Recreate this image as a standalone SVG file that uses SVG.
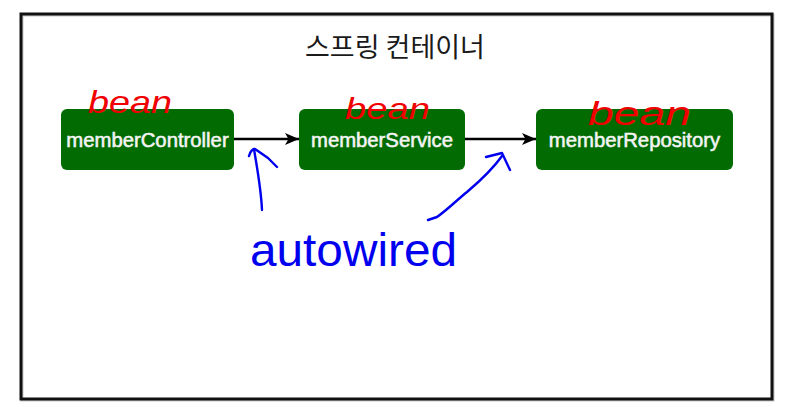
<svg xmlns="http://www.w3.org/2000/svg" width="785" height="407" viewBox="0 0 785 407">
  <style>
    .node rect { fill: #026c02; }
    .node text { fill: #f4f4f4; stroke: #f4f4f4; stroke-width: 0.55; font-family: "Liberation Sans", Arial, sans-serif; font-size: 20.3px; text-anchor: middle; }
    .conn { stroke: #000; stroke-width: 2.4; fill: none; }
    .bean { fill: #f00000; font-family: "Liberation Sans", Arial, sans-serif; font-style: italic; }
    .ink { stroke: #0000ee; stroke-width: 2.4; fill: none; stroke-linecap: round; stroke-linejoin: round; }
    .auto { fill: #0000ee; font-family: "Liberation Sans", Arial, sans-serif; }
  </style>
  <defs>
    <marker id="arrow" markerWidth="15" markerHeight="14" refX="14" refY="7" orient="auto" markerUnits="userSpaceOnUse">
      <path d="M0,1 L14,7 L0,13 L3.5,7 Z" fill="#000"/>
    </marker>
  </defs>
  <rect x="0" y="0" width="785" height="407" fill="#fff"/>

  <g id="container">
    <rect x="22" y="15" width="751" height="385" fill="none" stroke="#c8c8c8" stroke-width="3"/>
    <rect x="21" y="14" width="751" height="385" fill="none" stroke="#111" stroke-width="3"/>
    <text x="395" y="57" font-family="'Noto Sans CJK KR', 'Noto Sans', sans-serif" font-size="27" fill="#1a1a1a" text-anchor="middle">스프링 컨테이너</text>
  </g>

  <g id="connectors">
    <line class="conn" x1="234" y1="139" x2="299" y2="139" marker-end="url(#arrow)"/>
    <line class="conn" x1="465" y1="139" x2="536" y2="139" marker-end="url(#arrow)"/>
  </g>

  <g id="memberController" class="node">
    <rect x="61" y="109" width="173" height="61" rx="6"/>
    <text x="147.5" y="147">memberController</text>
  </g>
  <g id="memberService" class="node">
    <rect x="299" y="109" width="166" height="61" rx="6"/>
    <text x="382" y="147">memberService</text>
  </g>
  <g id="memberRepository" class="node">
    <rect x="536" y="109" width="197" height="61" rx="6"/>
    <text x="634.5" y="147">memberRepository</text>
  </g>

  <g id="annotations">
    <text class="bean" x="88" y="113" font-size="32" textLength="84" lengthAdjust="spacingAndGlyphs">bean</text>
    <text class="bean" x="345" y="119" font-size="29" textLength="85" lengthAdjust="spacingAndGlyphs">bean</text>
    <text class="bean" x="588" y="125" font-size="33" textLength="103" lengthAdjust="spacingAndGlyphs">bean</text>

    <path class="ink" d="M262,210 C261,188 257,168 254,149"/>
    <path class="ink" d="M249,156 Q251,149 255,149 L268,158 L277,167"/>
    <path class="ink" d="M428,220 L437,217 C447,210 457,200 467,192 C480,181 492,170 502,156"/>
    <path class="ink" d="M486,157 L502,153 L510,170"/>
    <text class="auto" x="250" y="266" font-size="46" textLength="207" lengthAdjust="spacingAndGlyphs">autowired</text>
  </g>
</svg>
